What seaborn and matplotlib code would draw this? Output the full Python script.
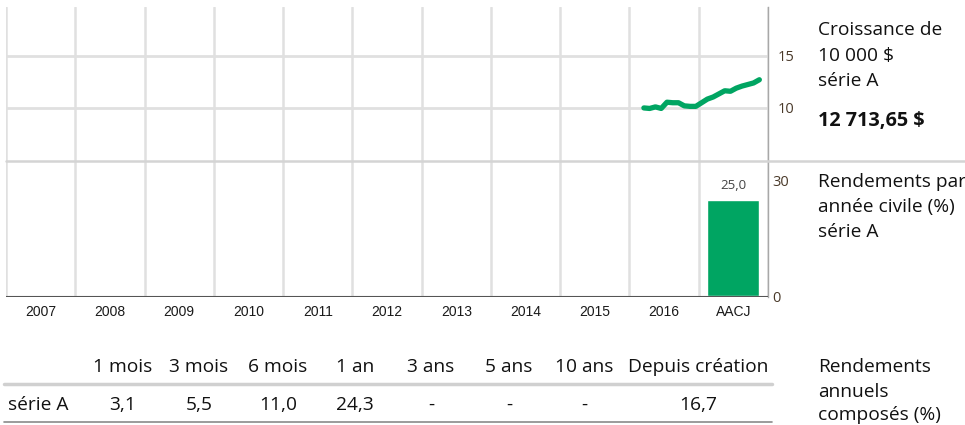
import numpy as np
import pandas as pd
import matplotlib
matplotlib.use("Agg")
import matplotlib.pyplot as plt
from matplotlib.lines import Line2D
import seaborn as sns

# data
years = ['2007', '2008', '2009', '2010', '2011', '2012', '2013', '2014', '2015', '2016', 'AACJ']
calendar_returns = [np.nan] * 10 + [25.0]

# growth of 10 000 $ (thousands), monthly, Mar 2016 -> Nov 2017
growth_months = pd.period_range('2016-03', '2017-11', freq='M')
growth_values = [10.0, 9.95, 10.1, 9.95, 10.55, 10.5, 10.5, 10.2, 10.15, 10.15, 10.5,
                 10.85, 11.05, 11.35, 11.65, 11.6, 11.9, 12.1, 12.25, 12.4, 12.71]
growth_ticks = [10, 15]
return_ticks = [0, 30]

periods = ['1 mois', '3 mois', '6 mois', '1 an', '3 ans', '5 ans', '10 ans', 'Depuis création']
annual_returns = ['3,1', '5,5', '11,0', '24,3', '-', '-', '-', '16,7']

GREEN = '#00a562'
GRID = '#e0e0e0'
TICKCOL = '#4a3a2a'

sns.set_theme(style='white')
plt.rcParams['font.family'] = ['Open Sans', 'DejaVu Sans']

fig = plt.figure(figsize=(9.65, 4.25), dpi=100)
W, H = 965, 425

def fx(px):
    return px / W

def fy(py):
    return 1 - py / H

ax1 = fig.add_axes([fx(6), fy(161), fx(768) - fx(6), fy(7) - fy(161)])
ax2 = fig.add_axes([fx(6), fy(297), fx(768) - fx(6), fy(161) - fy(297)])

# top: growth line, x in column units (column i spans i-0.5 .. i+0.5)
gx = [(p.year - 2007) - 0.5 + (p.month - 0.5) / 12 for p in growth_months]
df_g = pd.DataFrame({'x': gx, 'v': growth_values})
for i in range(len(years) + 1):
    ax1.axvline(i - 0.5, color=GRID, lw=1.8, zorder=0)
    ax2.axvline(i - 0.5, color=GRID, lw=1.8, zorder=0)
for t in growth_ticks:
    ax1.axhline(t, color=GRID, lw=2, zorder=0)
sns.lineplot(data=df_g, x='x', y='v', ax=ax1, color=GREEN, lw=3.8, zorder=3)
ax1.set_xlim(-0.5, len(years) - 0.5)
ax1.set_ylim(4.9, 19.7)

# bottom: calendar year bars
df_b = pd.DataFrame({'year': years, 'ret': calendar_returns})
sns.barplot(data=df_b, x='year', y='ret', order=years, color=GREEN, width=0.75,
            saturation=1, ax=ax2, zorder=3)
ax2.set_xlim(-0.5, len(years) - 0.5)
ax2.set_ylim(-0.2, 35.2)
for bar in ax2.patches:
    h = bar.get_height()
    if np.isnan(h):
        continue
    ax2.annotate(f'{h:.1f}'.replace('.', ','), (bar.get_x() + bar.get_width() / 2, h),
                 xytext=(0, 6), textcoords='offset points', ha='center', va='bottom',
                 fontsize=9.5, color='#444444')

for ax, ticks in ((ax1, growth_ticks), (ax2, return_ticks)):
    for s in ['top', 'left', 'bottom']:
        ax.spines[s].set_visible(False)
    ax.spines['right'].set_color('#a8a8a8')
    ax.spines['right'].set_linewidth(1)
    ax.yaxis.tick_right()
    ax.set_yticks(ticks)
    ax.set_yticklabels([str(t) for t in ticks])
    ax.tick_params(axis='y', length=0, pad=7, labelsize=10.5, labelcolor=TICKCOL)
    ax.set_xlabel('')
    ax.set_ylabel('')
    ax.patch.set_alpha(0)
ax2.tick_params(axis='y', pad=3)

ax1.set_xticks([])
ax2.set_xticks(range(len(years)))
ax2.set_xticklabels(years, family=['Liberation Sans', 'DejaVu Sans'], fontsize=10, color='#1a1a1a')
ax2.tick_params(axis='x', length=0, pad=6)
ax2.axhline(-0.2, color='#555555', lw=1.5, zorder=4)

# separator between the two panels
fig.add_artist(Line2D([fx(6), 1], [fy(161), fy(161)], color='#d4d4d4', lw=1.8))

# right-hand texts
tx = fx(818)
fs = 13.8
fig.text(tx, fy(30), 'Croissance de', fontsize=fs, va='center', color='#111111')
fig.text(tx, fy(55.5), '10 000 $', fontsize=fs, va='center', color='#111111')
fig.text(tx, fy(81), 'série A', fontsize=fs, va='center', color='#111111')
fig.text(tx, fy(121), '12 713,65 $', fontsize=14.3, va='center', weight='bold', color='#111111')
fig.text(tx, fy(182), 'Rendements par', fontsize=fs, va='center', color='#111111')
fig.text(tx, fy(207), 'année civile (%)', fontsize=fs, va='center', color='#111111')
fig.text(tx, fy(232), 'série A', fontsize=fs, va='center', color='#111111')
fig.text(tx, fy(367), 'Rendements', fontsize=fs, va='center', color='#111111')
fig.text(tx, fy(392), 'annuels', fontsize=fs, va='center', color='#111111')
fig.text(tx, fy(415), 'composés (%)', fontsize=fs, va='center', color='#111111')

# compound returns table
col_x = [123, 199, 278, 355, 431, 509, 584, 698]
for cx, p, v in zip(col_x, periods, annual_returns):
    fig.text(fx(cx), fy(367), p, fontsize=fs, ha='center', va='center', color='#111111')
    fig.text(fx(cx), fy(405), v, fontsize=fs, ha='center', va='center', color='#111111')
fig.text(fx(8), fy(405), 'série A', fontsize=fs, va='center', color='#111111')
fig.add_artist(Line2D([fx(4), fx(772)], [fy(384), fy(384)], color='#d0d0d0', lw=2.5))
fig.add_artist(Line2D([fx(4), fx(772)], [fy(422), fy(422)], color='#8a8a8a', lw=1.2))

fig.savefig('out.png', dpi=100)
